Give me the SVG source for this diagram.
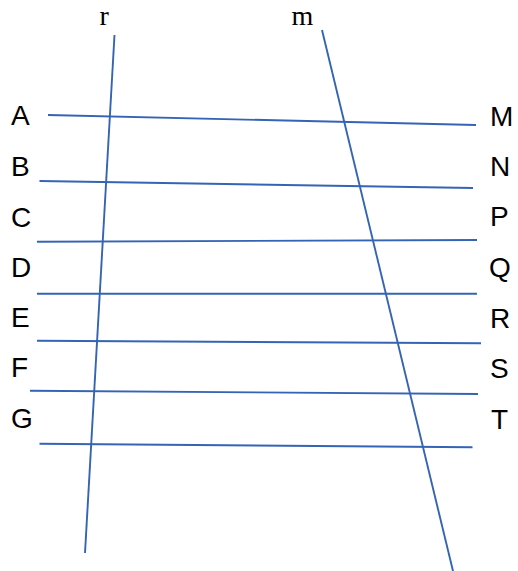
<svg xmlns="http://www.w3.org/2000/svg" width="518" height="571" viewBox="0 0 518 571">
<style>
.ln{stroke:#3564b4;stroke-width:1.9;fill:none;stroke-linecap:butt}
.lb{font-family:"Liberation Sans",Arial,sans-serif;font-size:28px;fill:#000}
.sr{font-family:"Liberation Serif","Times New Roman",serif;font-size:28px;fill:#000}
</style>
<rect width="518" height="571" fill="#fff"/>
<g id="connectors">
<line class="ln" x1="114.5" y1="35" x2="85" y2="553"/>
<line class="ln" x1="322" y1="30" x2="453" y2="571"/>
<line class="ln" x1="48" y1="115" x2="476" y2="125"/>
<line class="ln" x1="39.5" y1="181" x2="473" y2="188"/>
<line class="ln" x1="37" y1="241.7" x2="477" y2="240"/>
<line class="ln" x1="37" y1="293.7" x2="477" y2="293.7"/>
<line class="ln" x1="37" y1="340.7" x2="481" y2="343.3"/>
<line class="ln" x1="30" y1="390.7" x2="478" y2="394"/>
<line class="ln" x1="39.5" y1="443.7" x2="472.5" y2="447.3"/>
</g>
<g id="label-r"><text class="sr" x="99.5" y="25">r</text></g>
<g id="label-m"><text class="sr" x="291.5" y="25">m</text></g>
<g id="label-A"><text class="lb" x="11" y="125">A</text></g>
<g id="label-B"><text class="lb" x="11" y="176">B</text></g>
<g id="label-C"><text class="lb" x="11" y="227">C</text></g>
<g id="label-D"><text class="lb" x="11" y="277">D</text></g>
<g id="label-E"><text class="lb" x="11" y="327">E</text></g>
<g id="label-F"><text class="lb" x="11" y="377">F</text></g>
<g id="label-G"><text class="lb" x="11" y="428">G</text></g>
<g id="label-M"><text class="lb" x="490" y="126">M</text></g>
<g id="label-N"><text class="lb" x="490" y="176">N</text></g>
<g id="label-P"><text class="lb" x="490" y="226">P</text></g>
<g id="label-Q"><text class="lb" x="489" y="277">Q</text></g>
<g id="label-R"><text class="lb" x="490" y="328">R</text></g>
<g id="label-S"><text class="lb" x="490" y="378">S</text></g>
<g id="label-T"><text class="lb" x="491" y="429">T</text></g>
</svg>
